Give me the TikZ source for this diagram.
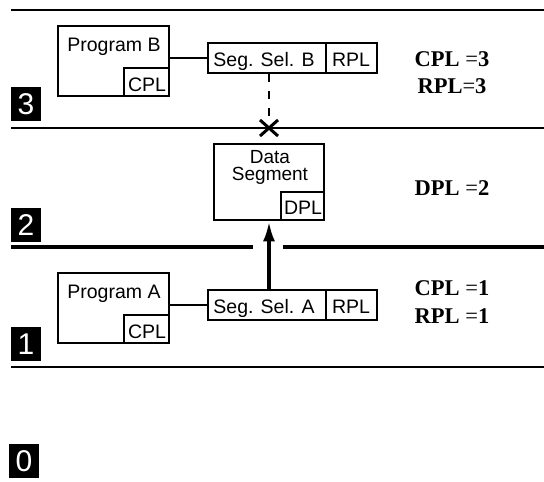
\documentclass[tikz,border=0pt]{standalone}
\usepackage{fontspec}
\setmainfont{Liberation Serif}
\setsansfont{Liberation Sans}
\usetikzlibrary{arrows.meta,fit,shapes.misc}

\tikzset{
  box/.style={draw, line width=2.7pt, inner sep=0pt},
  lbl/.style={font=\sffamily\fontsize{19.5}{22}\selectfont, inner sep=0pt, anchor=base},
  val/.style={font=\fontsize{22.5}{26}\selectfont, inner sep=0pt, anchor=base},
  lvl/.style={fill=black, text=white, minimum width=30pt, minimum height=34pt,
              inner sep=0pt, font=\sffamily\fontsize{30}{32}\selectfont},
  rule/.style={line width=1.8pt},
  link/.style={line width=1.5pt},
}

\begin{document}
\begin{tikzpicture}[x=1pt,y=-1pt]
\useasboundingbox (0,0) rectangle (544,482);

% privilege level separators
\draw[rule, line width=1.5pt] (11,10) -- (544,10);
\draw[rule] (11,128) -- (544,128);
\draw[rule, line width=3.2pt] (11,247) -- (253,247);
\draw[rule, line width=3.2pt] (283,247) -- (544,247);
\draw[rule] (11,367) -- (544,367);

% level markers
\node[lvl] (l3) at (26,104) {3};
\node[lvl] (l2) at (26,225) {2};
\node[lvl] (l1) at (26,344) {1};
\node[lvl] (l0) at (24,461) {0};

% ---- level 3: program B and its selector
\node[box, fit={(58,26) (169,96)}] (progB) {};
\node[box, fit={(124,68) (169,96)}] (cplB) {};
\node[lbl] (tProgB) at (114,51) {Program B};
\node[lbl] (tCplB) at (147,91) {CPL};

\node[box, fit={(208,43) (377,73)}] (selB) {};
\node[box, fit={(326,43) (377,73)}] (rplB) {};
\node[lbl] (tSelB) at (264,66) {Seg. Sel. B};
\node[lbl] (tRplB) at (351,66) {RPL};

\draw[link] (progB.east |- selB.west) -- (selB.west);

\node[val] (cpl3) at (452,66) {\textbf{CPL }=\textbf{3}};
\node[val] (rpl3) at (452,93) {\textbf{RPL}=\textbf{3}};

% ---- level 2: data segment
\node[box, fit={(214,144) (324,220)}] (dseg) {};
\node[box, fit={(281,192) (324,220)}] (dpl) {};
\node[lbl, align=center, anchor=north,
      font=\sffamily\fontsize{19}{17}\selectfont] (tData) at (270,150) {Data\\Segment};
\node[lbl] (tDpl) at (303,214) {DPL};

\node[val] (dpl2) at (452,195) {\textbf{DPL }=\textbf{2}};

% denied access from level 3
\node[draw, cross out, line width=3pt, minimum width=15pt, minimum height=13pt,
      inner sep=0pt] (deny) at (269,128) {};
\draw[link, dash pattern=on 8pt off 9pt] (deny |- selB.south) -- (deny.north);

% ---- level 1: program A and its selector
\node[box, fit={(58,273) (169,343)}] (progA) {};
\node[box, fit={(124,315) (169,343)}] (cplA) {};
\node[lbl] (tProgA) at (114,298) {Program A};
\node[lbl] (tCplA) at (147,338) {CPL};

\node[box, fit={(208,290) (377,320)}] (selA) {};
\node[box, fit={(326,290) (377,320)}] (rplA) {};
\node[lbl] (tSelA) at (264,313) {Seg. Sel. A};
\node[lbl] (tRplA) at (351,313) {RPL};

\draw[link] (progA.east |- selA.west) -- (selA.west);

\node[val] (cpl1) at (452,295) {\textbf{CPL }=\textbf{1}};
\node[val] (rpl1) at (452,323) {\textbf{RPL }=\textbf{1}};

% granted access from level 1
\draw[line width=3.5pt, -{Latex[length=20pt,width=12pt]}]
  (deny |- selA.north) -- (deny |- dseg.south);
\end{tikzpicture}
\end{document}
